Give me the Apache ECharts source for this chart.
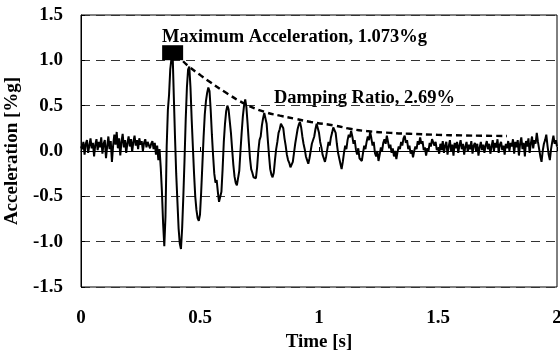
<!DOCTYPE html>
<html>
<head>
<meta charset="utf-8">
<script src="https://cdn.jsdelivr.net/npm/echarts@6/dist/echarts.min.js"></script>
<style>
  html, body { margin: 0; padding: 0; background: #ffffff; }
  #chart { width: 560px; height: 352px; }
</style>
</head>
<body>
<div id="chart"></div>
<script>
// sampled acceleration record, one value every 5 ms from 0 s to 2 s
const timeStep = 0.005
const accel = [
  0.05, 0.02, 0.10, -0.04, 0.08, 0.12, -0.02, 0.06, 0.14, 0.03, 0.09, -0.06, 0.07, 0.13, 0.01, 0.10, 0.04, 0.15, -0.03, 0.08,
  0.12, -0.08, 0.05, 0.16, 0.02, 0.11, -0.12, 0.06, 0.18, 0.07, 0.21, 0.03, 0.14, -0.05, 0.10, 0.19, 0.04, 0.12, -0.02, 0.09,
  0.16, 0.05, 0.13, -0.01, 0.10, 0.17, 0.06, 0.12, 0.02, 0.14, 0.07, 0.11, 0.00, 0.09, 0.13, 0.04, 0.10, 0.12, 0.03, 0.08,
  0.11, 0.02, 0.09, -0.04, 0.06, -0.10, 0.02, -0.18, -0.45, -0.80, -1.05, -0.72, 0.05, 0.45, 0.62, 0.90, 1.02, 1.073, 0.60, 0.15,
  -0.25, -0.55, -0.85, -1.02, -1.08, -0.85, -0.50, -0.10, 0.35, 0.70, 0.90, 0.93, 0.70, 0.35, 0.05, -0.25, -0.50, -0.65, -0.74, -0.77,
  -0.70, -0.45, -0.15, 0.15, 0.40, 0.55, 0.64, 0.70, 0.66, 0.45, 0.18, -0.05, -0.25, -0.35, -0.32, -0.45, -0.56, -0.58, -0.45, -0.20,
  0.10, 0.30, 0.44, 0.50, 0.46, 0.47, 0.20, 0.02, -0.15, -0.28, -0.35, -0.38, -0.36, -0.22, 0.00, 0.20, 0.38, 0.50, 0.57, 0.48,
  0.30, 0.10, -0.08, -0.20, -0.24, -0.29, -0.31, -0.30, -0.18, 0.00, 0.12, 0.16, 0.28, 0.36, 0.42, 0.44, 0.30, 0.12, -0.05, -0.20,
  -0.26, -0.29, -0.24, -0.10, 0.02, 0.10, 0.20, 0.24, 0.30, 0.32, 0.25, 0.14, 0.06, -0.04, -0.10, -0.13, -0.18, -0.20, -0.12, -0.02,
  0.08, 0.16, 0.24, 0.29, 0.32, 0.26, 0.16, 0.08, 0.02, -0.06, -0.10, -0.14, -0.08, 0.00, 0.08, 0.06, 0.16, 0.24, 0.30, 0.28,
  0.20, 0.10, 0.04, -0.04, -0.08, -0.12, -0.06, 0.02, 0.10, 0.06, 0.15, 0.20, 0.26, 0.27, 0.20, 0.08, -0.02, -0.08, -0.14, -0.20,
  -0.12, -0.02, 0.06, 0.02, 0.12, 0.18, 0.15, 0.22, 0.16, 0.08, 0.12, 0.02, -0.04, 0.03, -0.08, -0.06, -0.11, -0.02, 0.06, 0.02,
  0.10, 0.16, 0.12, 0.21, 0.14, 0.06, 0.10, -0.02, -0.06, 0.00, -0.11, -0.04, 0.04, 0.00, 0.09, 0.13, 0.08, 0.17, 0.10, 0.03,
  0.07, -0.02, 0.03, -0.06, 0.00, -0.09, -0.01, 0.05, 0.02, 0.10, 0.06, 0.14, 0.17, 0.09, 0.12, 0.02, 0.06, -0.03, 0.01, -0.07,
  0.00, 0.05, 0.02, 0.11, 0.07, 0.15, 0.08, 0.11, 0.01, 0.04, -0.05, 0.03, 0.00, 0.09, 0.05, 0.13, 0.15, 0.06, 0.10, 0.01,
  0.04, -0.03, 0.08, 0.01, 0.11, -0.02, 0.06, 0.10, -0.04, 0.05, 0.12, 0.00, 0.07, -0.05, 0.09, 0.03, 0.10, -0.02, 0.06, 0.12,
  0.02, 0.08, -0.04, 0.05, 0.10, -0.01, 0.07, 0.02, 0.11, -0.03, 0.06, 0.09, 0.00, 0.08, -0.05, 0.04, 0.10, 0.01, 0.07, -0.02,
  0.06, 0.11, 0.02, 0.08, -0.03, 0.05, 0.12, 0.00, 0.09, 0.04, 0.13, -0.02, 0.07, 0.10, 0.01, 0.06, -0.04, 0.08, 0.03, 0.11,
  0.00, 0.09, 0.05, 0.13, -0.03, 0.10, 0.04, 0.12, -0.05, 0.08, 0.15, 0.02, 0.09, -0.06, 0.11, 0.05, 0.14, -0.02, 0.08, 0.16,
  0.03, 0.12, 0.08, 0.20, 0.10, 0.02, -0.06, -0.12, 0.00, 0.08, 0.12, 0.18, 0.06, -0.04, -0.10, 0.02, 0.10, 0.17, 0.08, 0.12,
  0.05
]

// fitted decay curve
const envTime = [0.429, 0.454, 0.50, 0.542, 0.605, 0.689, 0.773, 0.836, 0.90, 0.966, 1.067, 1.13, 1.20, 1.30, 1.38, 1.50, 1.60, 1.70, 1.79]
const envValue = [0.99, 0.93, 0.84, 0.76, 0.65, 0.52, 0.43, 0.39, 0.355, 0.32, 0.28, 0.245, 0.22, 0.20, 0.19, 0.178, 0.172, 0.168, 0.165]

// peak marker
const peakTime = 0.385
const peakValue = 1.073

const yTicks = [-1.5, -1.0, -0.5, 0.0, 0.5, 1.0, 1.5]

const serif = 'Liberation Serif'

const signalData = accel.map((v, i) => [+(i * timeStep).toFixed(3), v])
const envData = envTime.map((t, i) => [t, envValue[i]])

var myChart = echarts.init(document.getElementById('chart'))
myChart.setOption({
  animation: false,
  backgroundColor: '#ffffff',
  grid: {
    left: 81,
    right: 3,
    top: 15,
    bottom: 65,
    outerBoundsMode: 'none',
    containLabel: false,
    show: true,
    borderColor: '#000',
    borderWidth: 1
  },
  xAxis: {
    type: 'value',
    min: 0,
    max: 2,
    interval: 0.5,
    name: 'Time [s]',
    nameLocation: 'middle',
    nameGap: 44,
    nameTextStyle: { fontFamily: serif, fontWeight: 'bold', fontSize: 19, color: '#000' },
    axisLine: { show: true, lineStyle: { color: '#000', width: 1 } },
    axisTick: { show: true, inside: true, length: 4, lineStyle: { color: '#000' } },
    axisLabel: { fontFamily: serif, fontWeight: 'bold', fontSize: 19, color: '#000', margin: 22 },
    splitLine: { show: false }
  },
  yAxis: {
    type: 'value',
    min: yTicks[0],
    max: yTicks[yTicks.length - 1],
    interval: 0.5,
    name: 'Acceleration [%g]',
    nameLocation: 'middle',
    nameRotate: 90,
    nameGap: 53,
    nameTextStyle: { fontFamily: serif, fontWeight: 'bold', fontSize: 19, color: '#000' },
    axisLine: { show: true, lineStyle: { color: '#000', width: 1 } },
    axisTick: { show: true, inside: true, length: 4, lineStyle: { color: '#000' } },
    axisLabel: {
      fontFamily: serif, fontWeight: 'bold', fontSize: 19, color: '#000', margin: 18,
      formatter: v => v.toFixed(1)
    },
    splitLine: { show: true, lineStyle: { color: '#333', width: 1, type: [9, 6] } }
  },
  series: [
    {
      name: 'signal',
      type: 'line',
      data: signalData,
      showSymbol: false,
      lineStyle: { color: '#000', width: 2 },
      z: 3
    },
    {
      name: 'envelope',
      type: 'line',
      data: envData,
      smooth: true,
      showSymbol: false,
      lineStyle: { color: '#000', width: 2.4, type: [6, 4] },
      z: 4
    },
    {
      name: 'max',
      type: 'scatter',
      data: [[peakTime, peakValue]],
      symbol: 'rect',
      symbolSize: [21, 15],
      symbolOffset: [0, -1],
      itemStyle: { color: '#000', opacity: 1 },
      z: 5
    }
  ],
  graphic: [
    {
      type: 'text',
      left: 162,
      top: 28,
      style: { text: 'Maximum Acceleration, 1.073%g', font: 'bold 18.5px "Liberation Serif"', fill: '#000' }
    },
    {
      type: 'text',
      left: 274,
      top: 89,
      style: { text: 'Damping Ratio, 2.69%', font: 'bold 18.5px "Liberation Serif"', fill: '#000' }
    }
  ]
})
</script>
</body>
</html>
